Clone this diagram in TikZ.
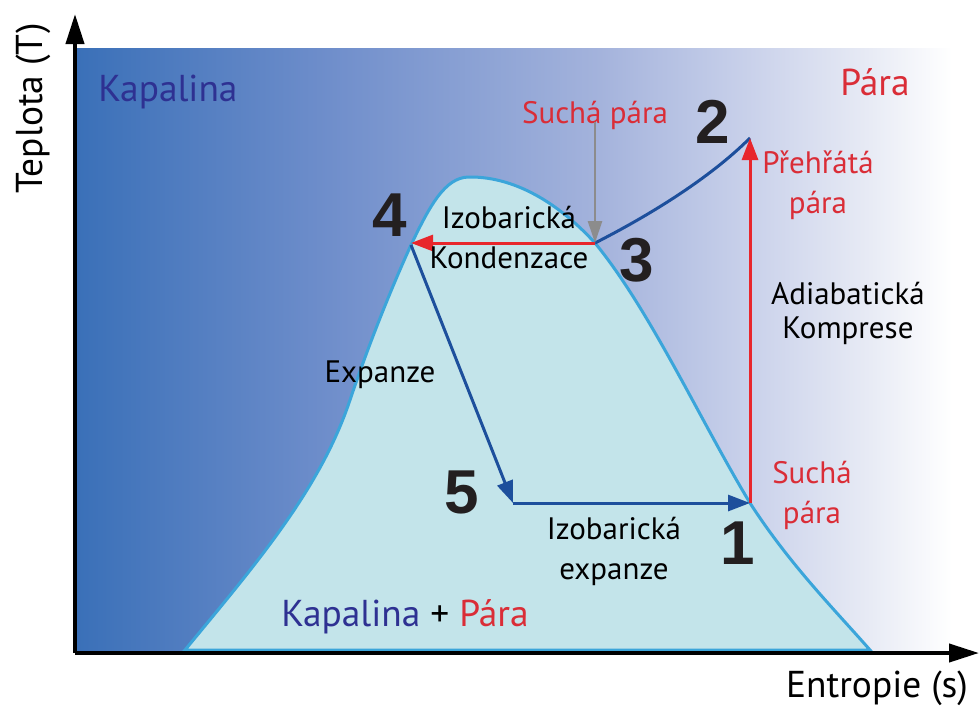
\documentclass[tikz,border=0pt]{standalone}
\usepackage{fontspec}
\setmainfont{PT Sans}
\newfontfamily\numfont{Liberation Sans}
\usetikzlibrary{arrows.meta}

\definecolor{bgA}{HTML}{3A70B8}
\definecolor{bgB}{HTML}{6F8ECB}
\definecolor{bgC}{HTML}{A4B3DC}
\definecolor{bgD}{HTML}{C8D0EA}
\definecolor{bgE}{HTML}{E8EBF5}
\definecolor{domefill}{HTML}{C3E4EA}
\definecolor{domeedge}{HTML}{3BA5DA}
\definecolor{liqblue}{HTML}{2E3192}
\definecolor{vapred}{HTML}{DA2D37}
\definecolor{redline}{HTML}{E8262C}
\definecolor{blueline}{HTML}{1D4F9C}
\definecolor{numcol}{HTML}{231F20}

\pgfdeclarehorizontalshading{bgshade}{100bp}{color(0bp)=(bgA); color(25bp)=(bgA);
  color(39bp)=(bgB); color(54bp)=(bgC); color(62bp)=(bgD); color(69bp)=(bgE);
  color(73.5bp)=(white); color(100bp)=(white)}

\tikzset{
  num/.style={font=\numfont\bfseries\fontsize{31}{32}\selectfont, text=numcol, inner sep=0pt},
  lbl/.style={font=\fontsize{15.5}{20}\selectfont, align=center, inner sep=0pt},
  big/.style={font=\fontsize{18.7}{20}\selectfont, inner sep=0pt},
  axis/.style={line width=2pt, -{Triangle[length=15pt,width=9pt]}},
  redarr/.style={line width=1.5pt, draw=redline, -{Triangle[length=11pt,width=8pt]}},
  bluearr/.style={line width=1.5pt, draw=blueline, -{Triangle[length=11pt,width=8pt]}},
}

\begin{document}
\begin{tikzpicture}[x=0.5pt,y=-0.5pt]
\useasboundingbox (0,0) rectangle (979,708);

% background
\shade[shading=bgshade] (76,48) rectangle (979,652);

% saturation dome
\draw[fill=domefill, draw=domeedge, line width=1.5pt]
  (185,650) .. controls (255,565) and (320,490) .. (350,400)
  .. controls (372,335) and (395,280) .. (411,245)
  .. controls (430,205) and (445,178) .. (468,177)
  .. controls (520,176) and (565,210) .. (595,243)
  .. controls (650,310) and (700,420) .. (750,503)
  .. controls (790,565) and (835,610) .. (870,650) -- cycle;

% cycle points
\coordinate (p1) at (750,503);
\coordinate (p2) at (750,138);
\coordinate (p3) at (595,243);
\coordinate (p4) at (411,245);
\coordinate (p5) at (513,503);

% axes
\coordinate (O) at (75,653);
\coordinate (ytip) at (75,14);
\coordinate (xtip) at (979,653);
\draw[axis] (O) -- (ytip);
\draw[axis] (O) -- (xtip);
\node[big, rotate=90] (ylab) at (33,108) {Teplota (T)};
\node[big] (xlab) at (877,688) {Entropie (s)};

% regions
\node[big, text=liqblue] (liq) at (168,92) {Kapalina};
\node[big, text=vapred] (vap) at (875,82) {Pára};
\node[big] (mix) at (405,617) {\textcolor{liqblue}{Kapalina} + \textcolor{vapred}{Pára}};

% process lines
\draw[blueline, line width=1.5pt] (p3) .. controls (650,215) and (710,178) .. (p2);
\draw[redarr] (p1) -- (p2);
\draw[redarr] (p3) -- (p3 -| p4);
\draw[bluearr] (p4) -- (p5);
\draw[bluearr] (p5) -- (p1);

% labels
\node[lbl, text=vapred] (dry3) at (595,115) {Suchá pára};
\draw[draw=gray!90, line width=1.3pt, -{Triangle[length=11pt,width=7pt]}] (dry3.south) ++(0,-8) -- (p3);
\node[lbl, text=vapred] (superh) at (818,185) {Přehřátá\\pára};
\node[lbl] (adiab) at (848,313) {Adiabatická\\[-3pt]Komprese};
\node[lbl] (kond) at (509,238) {Izobarická\\Kondenzace};
\node[lbl] (expz) at (380,375) {Expanze};
\node[lbl] (izex) at (614,551) {Izobarická\\expanze};
\node[lbl, text=vapred] (dry1) at (812,495) {Suchá\\pára};

% numbers
\node[num] (n1) at (738,543) {1};
\node[num] (n2) at (713,122) {2};
\node[num] (n3) at (637,260) {3};
\node[num] (n4) at (390,215) {4};
\node[num] (n5) at (462,492) {5};
\end{tikzpicture}
\end{document}
